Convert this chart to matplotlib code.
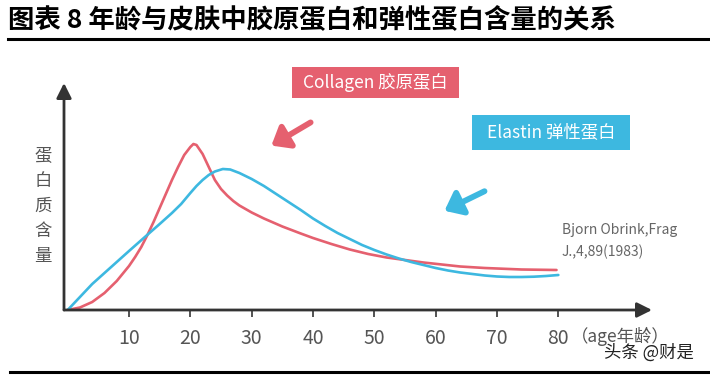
import matplotlib
matplotlib.use("Agg")
import matplotlib.pyplot as plt
from matplotlib.patches import Rectangle, FancyArrowPatch
from matplotlib.lines import Line2D

plt.rcParams['font.family'] = ['Noto Sans CJK SC', 'DejaVu Sans']

# ---- data ----
collagen_age = [0, 2, 4, 6, 8, 10, 11, 12, 13, 14, 15, 16, 17, 18, 19, 20, 20.5, 21, 22, 23, 24,
                25, 26, 27, 28, 30, 32, 35, 38, 40, 43, 46, 49, 52, 55, 58, 61, 64, 68, 74, 79.7]
collagen_val = [0, 2.5, 8, 17, 29, 44, 53, 63, 75, 88, 102, 116, 130, 143, 155, 163, 166, 165, 156, 143, 130,
                121, 114.5, 109, 104.5, 97.5, 91.5, 83.5, 76.5, 72, 66, 60.5, 56, 52.5, 50, 47.5, 45.5,
                43.5, 42, 40.5, 40]
elastin_age = [0, 2, 4, 6, 8, 10, 12.4, 15, 17, 18.5, 20, 21, 22, 23, 24, 25.3, 26.5, 28, 30,
               32, 34, 36, 38, 40, 42, 44, 46, 48, 50, 52, 54, 56, 58, 60, 62, 64, 66, 68, 70,
               72, 74, 76, 78, 80]
elastin_val = [0, 13, 26, 37, 48, 59, 72, 86, 97, 106, 117, 124, 130, 135, 138.5, 141, 140.5, 137, 131,
               124, 116, 108, 100, 91.5, 84, 77, 71, 65, 60, 55.5, 51.5, 48, 45, 42, 39.5, 37.5, 36,
               34.5, 33.5, 33, 33, 33.3, 34, 35]
xticks = [10, 20, 30, 40, 50, 60, 70, 80]

title = "图表 8 年龄与皮肤中胶原蛋白和弹性蛋白含量的关系"
ylabel_chars = ["蛋", "白", "质", "含", "量"]

RED = "#E5606F"
BLUE = "#3DB8E0"
GRAY = "#555555"

W, H = 710, 375
fig = plt.figure(figsize=(W / 100, H / 100), dpi=100)


def fx(px):
    return px / W


def fy(py):
    return 1 - py / H


ax = fig.add_axes([fx(64), fy(310), fx(652) - fx(64), fy(83) - fy(310)])
ax.set_xlim(-0.6, (652 - 68) / 6.13)
ax.set_ylim(0, 227)
for s in ax.spines.values():
    s.set_visible(False)
ax.patch.set_alpha(0)

ax.plot(collagen_age, collagen_val, color=RED, lw=1.9, solid_capstyle='round',
        solid_joinstyle='round', zorder=3)
ax.plot(elastin_age, elastin_val, color=BLUE, lw=1.9, solid_capstyle='round',
        solid_joinstyle='round', zorder=3)

# axes with arrowheads
for end in [(1, 0), (0, 1)]:
    ax.annotate('', xy=end, xytext=(0, 0), xycoords='axes fraction',
                arrowprops=dict(arrowstyle='-|>,head_length=0.9,head_width=0.45', color='#333333',
                                lw=2.0, shrinkA=0, shrinkB=0))

ax.set_yticks([])
ax.set_xticks(xticks)
ax.set_xticklabels([str(t) for t in xticks])
ax.tick_params(axis='x', direction='out', length=5, width=1.3, color='#444444',
               labelsize=14, labelcolor=GRAY, pad=8)

fig.text(fx(571), fy(336), "（age年龄）", fontsize=12.5, color=GRAY, ha='left', va='center')

for i, ch in enumerate(ylabel_chars):
    fig.text(fx(43), fy(156 + 25 * i), ch, fontsize=12.5, color=GRAY, ha='center', va='center')

# title and rules
fig.text(fx(8), fy(20), title, fontsize=19, fontweight='bold', color='black',
         ha='left', va='center')
fig.add_artist(Line2D([fx(8), fx(710)], [fy(39), fy(39)], color='black', lw=2.2))
fig.add_artist(Line2D([fx(10), fx(710)], [fy(372), fy(372)], color='black', lw=2.2))

# labelled boxes
fig.add_artist(Rectangle((fx(292), fy(98)), fx(459) - fx(292), fy(67) - fy(98),
                         transform=fig.transFigure, facecolor=RED, edgecolor='none'))
fig.text(fx(375.5), fy(82.5), "Collagen 胶原蛋白", fontsize=12.5, color='white',
         ha='center', va='center')
fig.add_artist(Rectangle((fx(472), fy(150)), fx(630) - fx(472), fy(115) - fy(150),
                         transform=fig.transFigure, facecolor=BLUE, edgecolor='none'))
fig.text(fx(551), fy(132.5), "Elastin 弹性蛋白", fontsize=12.5, color='white',
         ha='center', va='center')

# pointing arrows
fig.add_artist(FancyArrowPatch(
    (fx(313), fy(121)), (fx(269), fy(147)), transform=fig.transFigure,
    arrowstyle='-|>,head_length=4.5,head_width=3.6', lw=4.2, color=RED, mutation_scale=2.2))
fig.add_artist(FancyArrowPatch(
    (fx(487), fy(190)), (fx(442), fy(212)), transform=fig.transFigure,
    arrowstyle='-|>,head_length=4.5,head_width=3.6', lw=4.2, color=BLUE, mutation_scale=2.2))

# citation
fig.text(fx(562), fy(230), "Bjorn Obrink,Frag", fontsize=10, color='#666666', ha='left', va='center')
fig.text(fx(562), fy(252), "J.,4,89(1983)", fontsize=10, color='#666666', ha='left', va='center')

# watermark
fig.text(fx(604), fy(353), "头条 @财是", fontsize=12.5, color='#222222', ha='left', va='center')

fig.savefig("out.png", dpi=100)
